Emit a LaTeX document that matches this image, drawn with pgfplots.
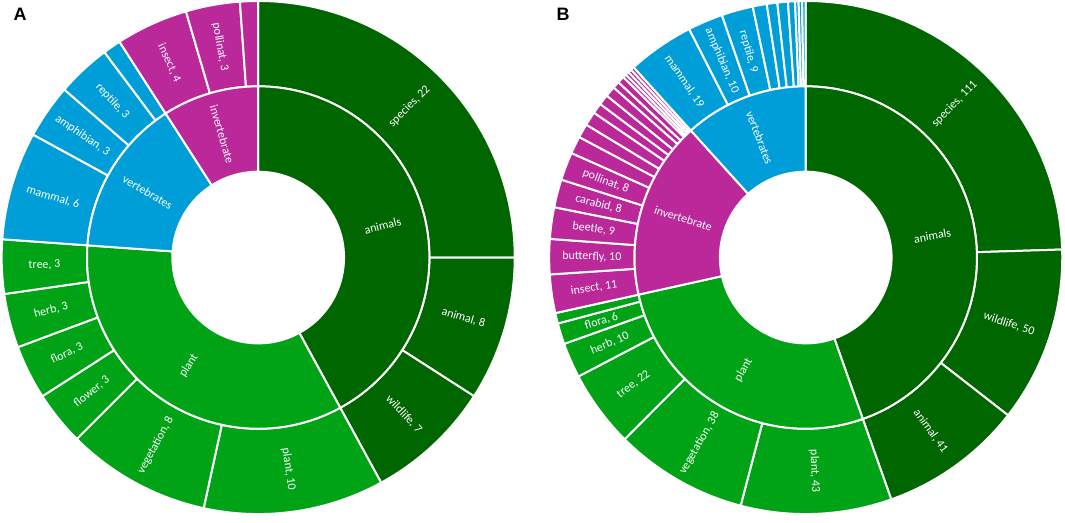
\documentclass[border=0pt]{standalone}
\usepackage{pgfplots}
\usepackage{pgfplotstable}
\pgfplotsset{compat=1.18}
\usepackage{etoolbox}
\usepackage{fontspec}
\setmainfont{Carlito}
\newfontfamily\headfont{Liberation Sans}

\definecolor{cA}{RGB}{0,102,0}
\definecolor{cP}{RGB}{0,163,22}
\definecolor{cV}{RGB}{0,158,216}
\definecolor{cI}{RGB}{186,40,153}

% ---------- Panel A ----------
\pgfplotstableread{
name v col lab
species 22 cA 2
animal 8 cA 2
wildlife 7 cA 2
plant 10 cP 2
vegetation 8 cP 2
flower 3 cP 2
flora 3 cP 2
herb 3 cP 2
tree 3 cP 2
mammal 6 cV 2
amphibian 3 cV 2
reptile 3 cV 2
other 1 cV 0
insect 4 cI 2
pollinat 3 cI 2
other 1 cI 0
}\Aouter
\pgfplotstableread{
name v col lab
animals 37 cA 1
plant 30 cP 1
vertebrates 13 cV 1
invertebrate 8 cI 1
}\Ainner

% ---------- Panel B ----------
\pgfplotstableread{
name v col lab
species 111 cA 2
wildlife 50 cA 2
animal 41 cA 2
plant 43 cP 2
vegetation 38 cP 2
tree 22 cP 2
herb 10 cP 2
flora 6 cP 2
other 3 cP 0
insect 11 cI 2
butterfly 10 cI 2
beetle 9 cI 2
carabid 8 cI 2
pollinat 8 cI 2
other 5 cI 0
other 4 cI 0
other 4 cI 0
other 3 cI 0
other 3 cI 0
other 3 cI 0
other 2 cI 0
other 2 cI 0
other 1 cI 0
other 1 cI 0
other 1 cI 0
other 1 cI 0
mammal 19 cV 2
amphibian 10 cV 2
reptile 9 cV 2
other 4 cV 0
other 3 cV 0
other 3 cV 0
other 2 cV 0
other 1 cV 0
other 1 cV 0
other 1 cV 0
}\Bouter
\pgfplotstableread{
name v col lab
animals 202 cA 1
plant 122 cP 1
invertebrate 76 cI 1
vertebrates 53 cV 1
}\Binner

% wedge drawn as the plot mark of a data point (the ring centre)
% #1 r_in, #2 r_out, #3 start deg, #4 end deg, #5 colour, #6 name, #7 label mode, #8 value
\newcommand\sunwedge[8]{%
  \pgfkeys{/pgf/fpu=false}%
  \pgfmathsetmacro\pS{90-#3}%
  \pgfmathsetmacro\pE{90-#4}%
  \fill[#5, draw=white, line width=2bp, line join=round]
     (\pS:#2 bp) arc[start angle=\pS, end angle=\pE, radius=#2 bp]
     -- (\pE:#1 bp) arc[start angle=\pE, end angle=\pS, radius=#1 bp] -- cycle;
  \ifnum#7>0
    \pgfmathsetmacro\am{(#3+#4)/2}%
    \pgfmathsetmacro\pm{90-\am}%
    \pgfmathsetmacro\srot{\am<180 ? 90-\am : 270-\am}%
    \pgfmathsetmacro\rmid{(#1+#2)/2}%
    \node[text=white, rotate=\srot, inner sep=0pt, font=\fontsize{12bp}{14bp}\selectfont]
      at (\pm:\rmid bp) {#6\ifnum#7=2, #8\fi};
  \fi
}
\pgfdeclareplotmark{sunwedge}{\sunwedgedraw}
\tikzset{sunparams/.code={\def\sunwedgedraw{#1}}}

\newcommand\ringcmds{}
% #1 table, #2 cx, #3 cy, #4 r_in, #5 r_out, #6 total
\newcommand\buildring[6]{%
  \pgfplotstablegetrowsof{#1}%
  \pgfmathtruncatemacro\lastrow{\pgfplotsretval-1}%
  \def\cumsum{0}%
  \pgfplotsforeachungrouped \i in {0,...,\lastrow}{%
    \pgfplotstablegetelem{\i}{v}\of{#1}\let\cv\pgfplotsretval
    \pgfplotstablegetelem{\i}{col}\of{#1}\let\ccol\pgfplotsretval
    \pgfplotstablegetelem{\i}{name}\of{#1}\let\cname\pgfplotsretval
    \pgfplotstablegetelem{\i}{lab}\of{#1}\let\clab\pgfplotsretval
    \pgfmathsetmacro\aS{\cumsum/#6*360}%
    \pgfmathsetmacro\cumsum{\cumsum+\cv}%
    \pgfmathsetmacro\aE{\cumsum/#6*360}%
    \eappto\ringcmds{\noexpand\addplot[only marks, mark=sunwedge,
        mark options={sunparams={\noexpand\sunwedge{#4}{#5}{\aS}{\aE}{\ccol}{\cname}{\clab}{\cv}}}]
        coordinates {(#2,#3)};}%
  }%
}
\buildring{\Aouter}{258.5}{261.5}{171.5}{257}{88}
\buildring{\Ainner}{258.5}{261.5}{86}{171.5}{88}
\buildring{\Bouter}{807}{261.5}{171.5}{257}{453}
\buildring{\Binner}{807}{261.5}{86}{171.5}{453}

\begin{document}
\begin{tikzpicture}
\begin{axis}[
  x=1bp, y=1bp, xmin=0, xmax=1065, ymin=0, ymax=520,
  hide axis, clip=false, scale only axis,
]
\ringcmds
\node[font=\headfont\bfseries\fontsize{18bp}{20bp}\selectfont, inner sep=0pt] at (axis cs:20,505) {A};
\node[font=\headfont\bfseries\fontsize{18bp}{20bp}\selectfont, inner sep=0pt] at (axis cs:564,505) {B};
\end{axis}
\end{tikzpicture}
\end{document}
